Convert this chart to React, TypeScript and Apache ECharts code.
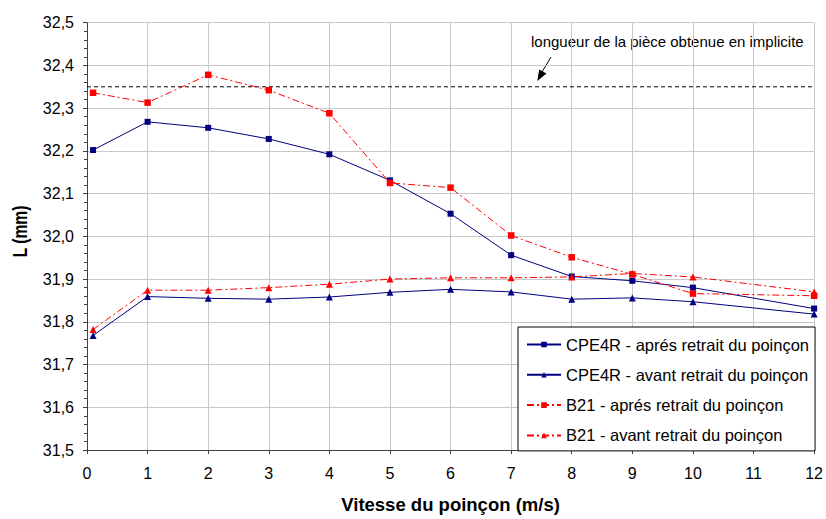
import React, { useEffect, useRef } from "react";
import * as echarts from "echarts";

const speeds = [0.1, 1, 2, 3, 4, 5, 6, 7, 8, 9, 10, 12];
const cpeApres = [32.202, 32.268, 32.254, 32.228, 32.192, 32.131, 32.053, 31.956, 31.906, 31.896, 31.88, 31.831];
const cpeAvant = [31.768, 31.859, 31.855, 31.853, 31.858, 31.869, 31.876, 31.87, 31.853, 31.856, 31.847, 31.818];
const b21Apres = [32.336, 32.313, 32.378, 32.342, 32.288, 32.125, 32.114, 32.002, 31.951, 31.911, 31.866, 31.861];
const b21Avant = [31.782, 31.874, 31.874, 31.88, 31.888, 31.9, 31.903, 31.903, 31.905, 31.913, 31.905, 31.87];
const implicitLength = 32.35;
const xRange = [0, 12];
const seriesNames = [
  "CPE4R - aprés retrait du poinçon",
  "CPE4R - avant retrait du poinçon",
  "B21 - aprés retrait du poinçon",
  "B21 - avant retrait du poinçon",
];

const FONT = "'Liberation Sans', Arial, sans-serif";
const NAVY = "#000080";
const RED = "#ff0000";
const DASHDOT = [7, 3, 2, 3];

const pair = (vals: number[]) => vals.map((v, i) => [speeds[i], v]);

export default function App() {
  const ref = useRef<HTMLDivElement>(null);
  useEffect(() => {
    if (!ref.current) return;
    const chart = echarts.init(ref.current, undefined, { renderer: "svg" });
    const mk = (name: string, vals: number[], color: string, symbol: string, size: number, dash: any) => ({
      name,
      type: "line",
      data: pair(vals),
      symbol,
      symbolSize: size,
      showSymbol: true,
      lineStyle: { color, width: 1, type: dash },
      itemStyle: { color },
      z: 3,
    });
    chart.setOption({
      animation: false,
      backgroundColor: "#ffffff",
      textStyle: { fontFamily: FONT },
      grid: { left: 87, right: 8, top: 22.7, bottom: 65, containLabel: false },
      xAxis: {
        type: "value",
        min: xRange[0],
        max: xRange[1],
        interval: 1,
        name: "Vitesse du poinçon (m/s)",
        nameLocation: "middle",
        nameGap: 45,
        nameTextStyle: { fontFamily: FONT, fontSize: 18.5, fontWeight: "bold", color: "#000" },
        axisLine: { lineStyle: { color: "#404040", width: 1 } },
        axisTick: { show: true, inside: false, length: 4, lineStyle: { color: "#404040" } },
        axisLabel: { fontFamily: FONT, fontSize: 16, color: "#000", margin: 15 },
        splitLine: { show: true, lineStyle: { color: "#c8c8c8", width: 1 } },
      },
      yAxis: {
        type: "value",
        min: 31.5,
        max: 32.5,
        interval: 0.1,
        axisLine: { show: true, lineStyle: { color: "#404040", width: 1 } },
        axisTick: { show: true, inside: false, length: 4, lineStyle: { color: "#404040" } },
        minorTick: { show: true, splitNumber: 5, length: 3, lineStyle: { color: "#404040" } },
        axisLabel: {
          fontFamily: FONT,
          fontSize: 16,
          color: "#000",
          margin: 13,
          formatter: (v: number) => v.toFixed(1).replace(".", ","),
        },
        splitLine: { show: true, lineStyle: { color: "#c8c8c8", width: 1 } },
      },
      legend: {
        show: true,
        data: seriesNames,
        orient: "vertical",
        left: 518,
        top: 327,
        backgroundColor: "#ffffff",
        borderColor: "#000",
        borderWidth: 1,
        borderRadius: 0,
        padding: [9, 6, 7, 8],
        itemWidth: 34,
        itemHeight: 7,
        itemGap: 13.3,
        selectedMode: false,
        textStyle: { fontFamily: FONT, fontSize: 16.5, color: "#000", lineHeight: 16 },
      },
      series: [
        mk(seriesNames[0], cpeApres, NAVY, "rect", 6, "solid"),
        mk(seriesNames[1], cpeAvant, NAVY, "triangle", 7, "solid"),
        mk(seriesNames[2], b21Apres, RED, "rect", 6.5, DASHDOT),
        mk(seriesNames[3], b21Avant, RED, "triangle", 7, DASHDOT),
        {
          name: "implicite",
          type: "line",
          data: [
            [xRange[0], implicitLength],
            [xRange[1], implicitLength],
          ],
          symbol: "none",
          silent: true,
          lineStyle: { color: "#000", width: 1, type: [4, 3] },
          z: 2,
        },
      ],
      graphic: [
        {
          type: "text",
          x: 20.5,
          y: 231.5,
          rotation: Math.PI / 2,
          scaleX: 0.78,
          style: {
            text: "L (mm)",
            font: `bold 20px ${FONT}`,
            fill: "#000",
            textAlign: "center",
            textVerticalAlign: "middle",
          },
        },
        {
          type: "text",
          x: 531,
          y: 41,
          style: {
            text: "longueur de la pièce obtenue en implicite",
            font: `15px ${FONT}`,
            fill: "#000",
            textAlign: "left",
            textVerticalAlign: "middle",
          },
        },
        {
          type: "line",
          shape: { x1: 551, y1: 57, x2: 542, y2: 72 },
          style: { stroke: "#000", lineWidth: 1 },
        },
        {
          type: "polygon",
          shape: {
            points: [
              [537.3, 81],
              [546.5, 73.6],
              [539.2, 69.4],
            ],
          },
          style: { fill: "#000" },
        },
      ],
    });
    return () => chart.dispose();
  }, []);
  return (
    <div
      ref={ref}
      style={{ position: "fixed", left: 0, top: 0, width: 826, height: 519, background: "#fff" }}
    />
  );
}
